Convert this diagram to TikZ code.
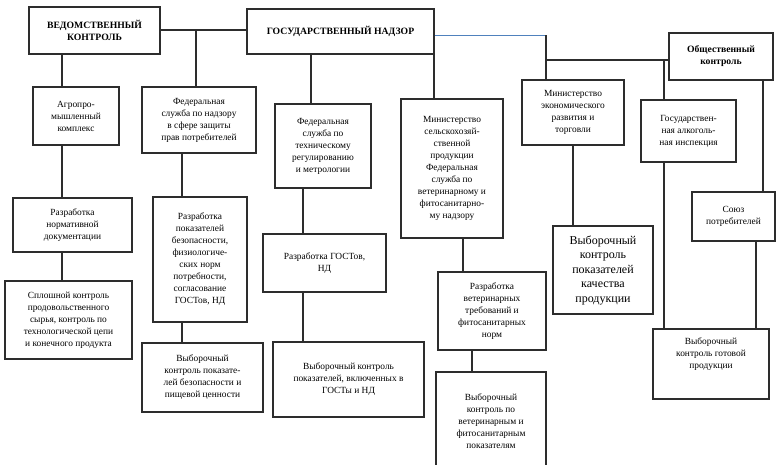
\documentclass[tikz,border=0pt]{standalone}
\usepackage{fontspec}
\setmainfont{Liberation Serif}
\usepackage{xcolor}
\usepackage{tikz}
\usetikzlibrary{positioning,calc}
\definecolor{cline}{RGB}{45,45,45}
\definecolor{cblue}{RGB}{79,129,189}

\begin{document}
\begin{tikzpicture}[x=1pt, y=-1pt,
  box/.style={draw=cline, line width=1.1pt, align=center, inner sep=2pt,
              font=\fontsize{9.4}{12}\selectfont},
  hd/.style={box, font=\bfseries\fontsize{9.7}{12}\selectfont},
  big/.style={box, font=\fontsize{12}{14.5}\selectfont},
  ln/.style={draw=cline, line width=1.1pt}]
\useasboundingbox (0,0) rectangle (777,464);
% top level
\node[hd, minimum width=131, minimum height=47] (ved)  at (94.5,30.5) {ВЕДОМСТВЕННЫЙ\\КОНТРОЛЬ};
\node[hd, minimum width=187, minimum height=45] (gos)  at (340.5,31.5) {ГОСУДАРСТВЕННЫЙ НАДЗОР};
\node[hd, minimum width=104, minimum height=47] (obsh) at (721,56.5) {Общественный\\контроль};
% bodies
\node[box, minimum width=86,  minimum height=58]  (agro)  at (76,116)    {Агропро-\\мышленный\\комплекс};
\node[box, minimum width=114, minimum height=66]  (fsn)   at (199,120)   {Федеральная\\служба по надзору\\в сфере защиты\\прав потребителей};
\node[box, minimum width=96,  minimum height=84]  (fstr)  at (323,146)   {Федеральная\\служба по\\техническому\\регулированию\\и метрологии};
\node[box, minimum width=102, minimum height=139] (msh)   at (452,168.5) {Министерство\\сельскохозяй-\\ственной\\продукции\\Федеральная\\служба по\\ветеринарному и\\фитосанитарно-\\му надзору};
\node[box, minimum width=102, minimum height=65]  (mer)   at (573,112.5) {Министерство\\экономического\\развития и\\торговли};
\node[box, minimum width=95,  minimum height=62]  (gai)   at (688.5,131) {Государствен-\\ная алкоголь-\\ная инспекция};
\node[box, minimum width=83,  minimum height=49]  (soyuz) at (733.5,216.5) {Союз\\потребителей};
% development
\node[box, minimum width=119, minimum height=54]  (rnd)   at (72.5,225)  {Разработка\\нормативной\\документации};
\node[box, minimum width=94,  minimum height=125] (rpb)   at (200,259.5) {Разработка\\показателей\\безопасности,\\физиологиче-\\ских норм\\потребности,\\согласование\\ГОСТов, НД};
\node[box, minimum width=123, minimum height=58]  (rgost) at (324.5,263)  {Разработка ГОСТов,\\НД};
\node[box, minimum width=108, minimum height=78]  (rvet)  at (492,311)    {Разработка\\ветеринарных\\требований и\\фитосанитарных\\норм};
\node[big, minimum width=100, minimum height=88]  (vkach) at (603,270)    {Выборочный\\контроль\\показателей\\качества\\продукции};
% control
\node[box, minimum width=127, minimum height=78]  (splosh) at (68.5,320)  {Сплошной контроль\\продовольственного\\сырья, контроль по\\технологической цепи\\и конечного продукта};
\node[box, minimum width=121, minimum height=69]  (vbez)   at (202.5,377.5) {Выборочный\\контроль показате-\\лей безопасности и\\пищевой ценности};
\node[box, minimum width=151, minimum height=75]  (vgost)  at (348.5,379.5) {Выборочный контроль\\показателей, включенных в\\ГОСТы и НД};
\node[box, minimum width=110, minimum height=98]  (vvet)   at (491,421)   {Выборочный\\контроль по\\ветеринарным и\\фитосанитарным\\показателям};
\node[box, minimum width=116, minimum height=70]  (vgot)   at (711,364)   {Выборочный\\контроль готовой\\продукции\\[10pt]};
% branch points
\coordinate (xa) at (62,30);
\coordinate (xb) at (196,30);
\coordinate (xc) at (182,0);
\coordinate (xd) at (311,0);
\coordinate (xe) at (303,0);
\coordinate (xf) at (434,0);
\coordinate (xg) at (463,0);
\coordinate (xh) at (472,0);
\coordinate (xm) at (546,35);
\coordinate (xn) at (664,60);
\coordinate (xk) at (573,0);
\coordinate (xs) at (763,0);
\coordinate (xt) at (756,0);
% connectors
\draw[ln] (ved.east |- xa) -- (gos.west |- xa);
\draw[ln] (xb) -- (xb |- fsn.north);
\draw[ln] (xa |- ved.south) -- (xa |- agro.north);
\draw[ln] (xa |- agro.south) -- (xa |- rnd.north);
\draw[ln] (xa |- rnd.south) -- (xa |- splosh.north);
\draw[ln] (xc |- fsn.south) -- (xc |- rpb.north);
\draw[ln] (xc |- rpb.south) -- (xc |- vbez.north);
\draw[ln] (xd |- gos.south) -- (xd |- fstr.north);
\draw[ln] (xe |- fstr.south) -- (xe |- rgost.north);
\draw[ln] (xe |- rgost.south) -- (xe |- vgost.north);
\draw[ln] (xf |- gos.south) -- (xf |- msh.north);
\draw[ln] (xg |- msh.south) -- (xg |- rvet.north);
\draw[ln] (xh |- rvet.south) -- (xh |- vvet.north);
\draw[cblue, line width=1pt] (gos.east |- xm) -- (xm);
\draw[ln] (xm) -- (xm |- mer.north);
\draw[ln] (obsh.west |- xn) -- (xm |- xn);
\draw[ln] (xn) -- (xn |- gai.north);
\draw[ln] (xk |- mer.south) -- (xk |- vkach.north);
\draw[ln] (xn |- gai.south) -- (xn |- vgot.north);
\draw[ln] (xs |- obsh.south) -- (xs |- soyuz.north);
\draw[ln] (xt |- soyuz.south) -- (xt |- vgot.north);
\end{tikzpicture}
\end{document}
